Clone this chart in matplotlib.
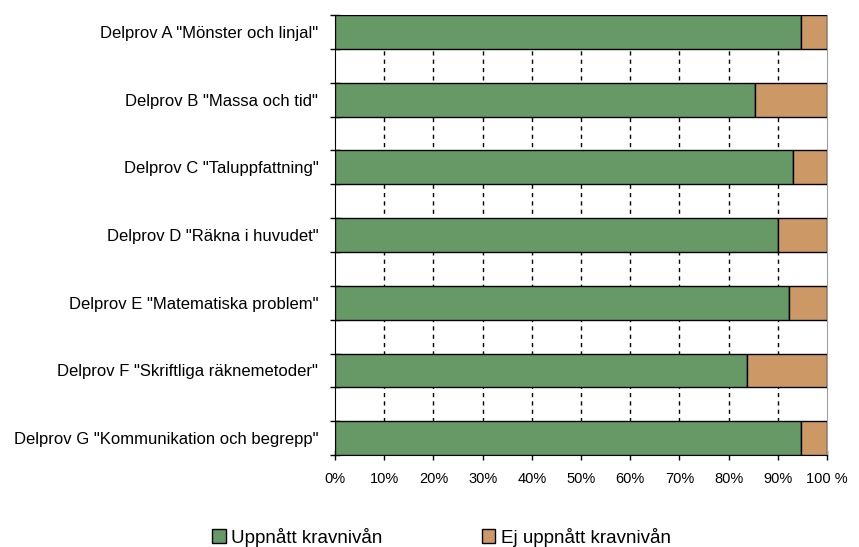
import numpy as np
import matplotlib.pyplot as plt

plt.rcParams['font.family'] = ['Liberation Sans', 'DejaVu Sans']

categories = ['Delprov A "Mönster och linjal"',
              'Delprov B "Massa och tid"',
              'Delprov C "Taluppfattning"',
              'Delprov D "Räkna i huvudet"',
              'Delprov E "Matematiska problem"',
              'Delprov F "Skriftliga räknemetoder"',
              'Delprov G "Kommunikation och begrepp"']
uppnatt = [94.8, 85.4, 93.1, 90.0, 92.3, 83.7, 94.8]
ej_uppnatt = [100 - v for v in uppnatt]
xtick_labels = ['0%', '10%', '20%', '30%', '40%', '50%', '60%', '70%', '80%', '90%', '100 %']

green = '#669966'
tan = '#CC9966'

fig = plt.figure(figsize=(8.59, 5.47), dpi=100)
ax = fig.add_axes([0.39, 0.168, 0.5728, 0.8046])

# every category sits on an even row, odd rows are the white gaps
y = np.arange(len(categories)) * 2
ax.barh(y, uppnatt, height=1.0, color=green, edgecolor='black', linewidth=1, zorder=3,
        label='Uppnått kravnivån')
ax.barh(y, ej_uppnatt, left=uppnatt, height=1.0, color=tan, edgecolor='black', linewidth=1,
        zorder=3, label='Ej uppnått kravnivån')

for gx in range(10, 100, 10):
    ax.axvline(gx, color='black', linestyle=(0, (3, 3)), linewidth=1, zorder=1)

ax.set_xlim(0, 100)
ax.set_ylim(len(categories) * 2 - 1.5, -0.5)

ax.set_xticks(np.arange(0, 101, 10))
ax.set_xticklabels(xtick_labels, fontsize=10.5)
ax.set_yticks(np.arange(-0.5, len(categories) * 2 - 1, 1))
ax.set_yticklabels([])
ax.set_yticks(y, minor=True)
ax.set_yticklabels(categories, minor=True, fontsize=12)
ax.tick_params(axis='y', which='major', direction='inout', length=7, width=1)
ax.tick_params(axis='y', which='minor', length=0, pad=12)
ax.tick_params(axis='x', direction='inout', length=7, width=1, pad=9)

ax.spines['left'].set_color('black')
ax.spines['bottom'].set_color('black')
ax.spines['right'].set_color('#a0a0a0')
ax.spines['top'].set_color('#a0a0a0')

handles, labels = ax.get_legend_handles_labels()
fig.legend(handles, labels, loc='lower center', bbox_to_anchor=(0.514, -0.03), ncol=2,
           frameon=False, fontsize=13.5, handlelength=0.7, handleheight=0.7,
           handletextpad=0.3, columnspacing=5.3)

fig.savefig('out.png', dpi=100)
